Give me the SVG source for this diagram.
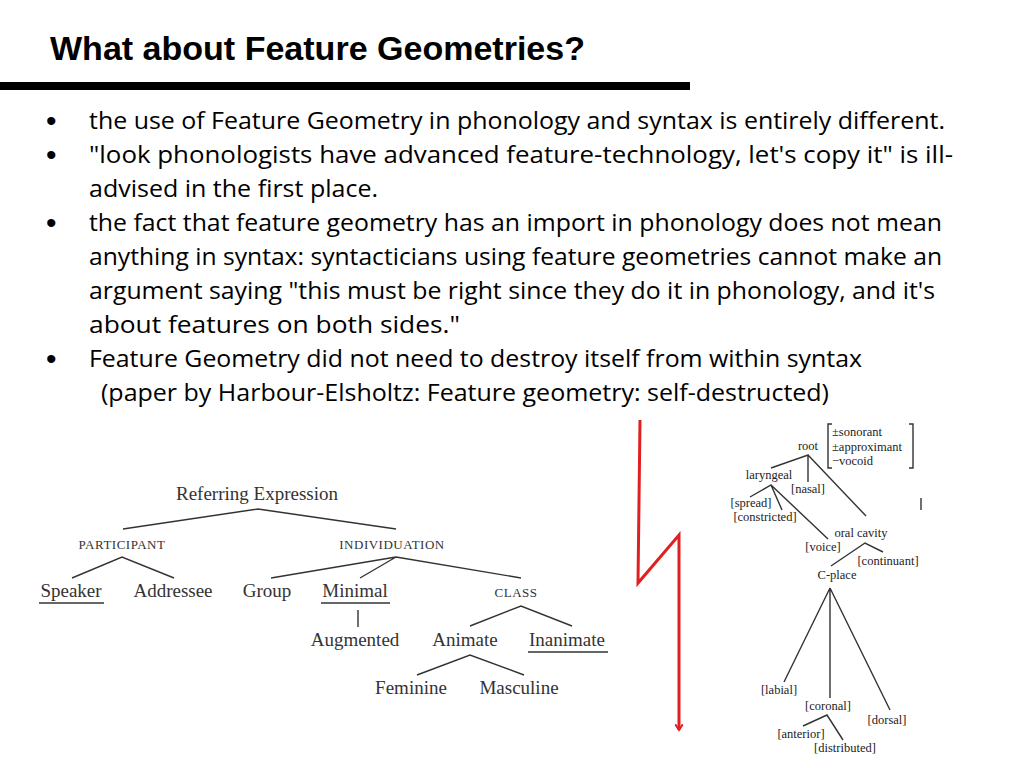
<svg xmlns="http://www.w3.org/2000/svg" width="1024" height="768" viewBox="0 0 1024 768">
<style>
.b{font-family:"Open Sans","Liberation Sans",sans-serif;font-size:23px;fill:#000}
.d{font-family:"Liberation Sans",sans-serif;font-size:30px;fill:#000}
.s{font-family:"Liberation Serif",serif;font-size:19px;fill:#333;text-anchor:middle}
.sc{font-family:"Liberation Serif",serif;font-size:13px;fill:#333;text-anchor:middle;letter-spacing:0.5px}
.p{font-family:"Liberation Serif",serif;font-size:12.5px;fill:#222;text-anchor:middle}
.q{font-family:"Liberation Serif",serif;font-size:12.5px;fill:#222;text-anchor:start}
.l{stroke:#333;stroke-width:1.4;fill:none}
</style>
<defs><marker id="ah" markerWidth="8" markerHeight="8" refX="6" refY="4" orient="auto" markerUnits="userSpaceOnUse" viewBox="0 0 8 8"><path d="M0,0 L6,4 L0,8" fill="none" stroke="#e02020" stroke-width="2"/></marker></defs>
<rect width="1024" height="768" fill="#fff"/>
<text x="50" y="60" font-family="Liberation Sans,sans-serif" font-weight="bold" font-size="33" textLength="535" lengthAdjust="spacingAndGlyphs">What about Feature Geometries?</text>
<rect x="0" y="82" width="690" height="8" fill="#000"/>
<g id="bullets">
<text class="d" x="46" y="131">•</text><text class="b" x="89" y="129" textLength="856" lengthAdjust="spacingAndGlyphs">the use of Feature Geometry in phonology and syntax  is entirely different.</text>
<text class="d" x="46" y="165">•</text><text class="b" x="89" y="163" textLength="864" lengthAdjust="spacingAndGlyphs">"look phonologists have advanced feature-technology, let's copy it" is ill-</text>
<text class="b" x="89" y="197" textLength="289" lengthAdjust="spacingAndGlyphs">advised in the first place.</text>
<text class="d" x="46" y="233">•</text><text class="b" x="89" y="231" textLength="853" lengthAdjust="spacingAndGlyphs">the fact that feature geometry has an import in phonology does not mean</text>
<text class="b" x="89" y="265" textLength="853" lengthAdjust="spacingAndGlyphs">anything in syntax: syntacticians using feature geometries cannot make an</text>
<text class="b" x="89" y="299" textLength="846" lengthAdjust="spacingAndGlyphs">argument saying "this must be right since they do it in phonology, and it's</text>
<text class="b" x="89" y="333" textLength="371" lengthAdjust="spacingAndGlyphs">about features on both sides."</text>
<text class="d" x="46" y="369">•</text><text class="b" x="89" y="367" textLength="773" lengthAdjust="spacingAndGlyphs">Feature Geometry did not need to destroy itself from within syntax</text>
<text class="b" x="101" y="401" textLength="728" lengthAdjust="spacingAndGlyphs">(paper by Harbour-Elsholtz: Feature geometry: self-destructed)</text>
</g>
<g id="connectors">
<path class="l" d="M123,529 L258,509 L396,529 M72,578 L122,557 L174,578 M271,578 L396,557 L360,578 M396,557 L521,578 M470,626 L521,606 L572,626 M358,610 L358,627 M417,675 L470,655 L524,675"/>
<path class="l" stroke-width="1.2" d="M771,468 L808,455 L808,482 M808,455 L866,516 M750,497 L771,485 L782,510 M771,485 L828,539 M831,566 L865,543 L883,552 M784,682 L830,588 L830,698 M830,588 L890,710 M803,726 L827,715 L843,740 M921,498 L921,510"/>
<path class="l" stroke-width="1.2" d="M832,424 L828,424 L828,468 L832,468 M909,424 L913,424 L913,468 L909,468"/>
<polyline points="640,420 638,583 679,535 679,730" fill="none" stroke="#e02020" stroke-width="3" marker-end="url(#ah)"/>
</g>
<g id="left-tree">
<text class="s" x="257" y="500">Referring Expression</text>
<text class="sc" x="122" y="549">PARTICIPANT</text>
<text class="sc" x="392" y="549">INDIVIDUATION</text>
<text class="s" x="71" y="597">Speaker</text><line class="l" x1="39" y1="603" x2="104" y2="603"/>
<text class="s" x="173" y="597">Addressee</text>
<text class="s" x="267" y="597">Group</text>
<text class="s" x="355" y="597">Minimal</text><line class="l" x1="321" y1="603" x2="390" y2="603"/>
<text class="sc" x="516" y="597">CLASS</text>
<text class="s" x="355" y="646">Augmented</text>
<text class="s" x="465" y="646">Animate</text>
<text class="s" x="567" y="646">Inanimate</text><line class="l" x1="528" y1="652" x2="608" y2="652"/>
<text class="s" x="411" y="694">Feminine</text>
<text class="s" x="519" y="694">Masculine</text>
</g>
<g id="right-tree">
<text class="p" x="808" y="450">root</text>
<text class="q" x="832" y="436">±sonorant</text>
<text class="q" x="832" y="451">±approximant</text>
<text class="q" x="832" y="465">−vocoid</text>
<text class="p" x="769" y="479">laryngeal</text>
<text class="p" x="808" y="493">[nasal]</text>
<text class="p" x="751" y="507">[spread]</text>
<text class="p" x="765" y="521">[constricted]</text>
<text class="p" x="861" y="537">oral cavity</text>
<text class="p" x="823" y="551">[voice]</text>
<text class="p" x="888" y="565">[continuant]</text>
<text class="p" x="837" y="579">C-place</text>
<text class="p" x="779" y="694">[labial]</text>
<text class="p" x="828" y="710">[coronal]</text>
<text class="p" x="887" y="724">[dorsal]</text>
<text class="p" x="801" y="738">[anterior]</text>
<text class="p" x="845" y="752">[distributed]</text>
</g>
</svg>
